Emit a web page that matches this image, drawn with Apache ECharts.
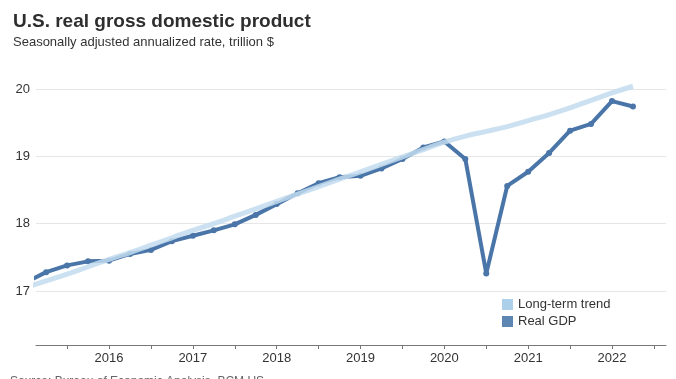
<!DOCTYPE html>
<html>
<head>
<meta charset="utf-8">
<script src="https://cdn.jsdelivr.net/npm/echarts@6/dist/echarts.min.js"></script>
<style>
html,body{margin:0;padding:0;background:#fff;}
#chart{width:676px;height:379px;}
</style>
</head>
<body>
<div id="chart"></div>
<script>
// Quarter-end positions (fractional years)
var quarterTimes = [2015.0, 2015.25, 2015.5, 2015.75, 2016.0, 2016.25, 2016.5, 2016.75,
  2017.0, 2017.25, 2017.5, 2017.75, 2018.0, 2018.25, 2018.5, 2018.75,
  2019.0, 2019.25, 2019.5, 2019.75, 2020.0, 2020.25, 2020.5, 2020.75,
  2021.0, 2021.25, 2021.5, 2021.75, 2022.0, 2022.25];
// Real GDP, trillion $
var realGDP = [17.12, 17.28, 17.38, 17.44, 17.45, 17.55, 17.61, 17.74,
  17.82, 17.90, 17.99, 18.13, 18.29, 18.45, 18.60, 18.69,
  18.71, 18.82, 18.96, 19.13, 19.22, 18.96, 17.26, 18.56,
  18.77, 19.05, 19.38, 19.48, 19.82, 19.74];
// Long-term trend, trillion $
var longTermTrend = [17.05, 17.15, 17.25, 17.36, 17.47, 17.57, 17.68, 17.79,
  17.90, 18.00, 18.11, 18.22, 18.33, 18.44, 18.55, 18.66,
  18.77, 18.88, 18.99, 19.10, 19.21, 19.30, 19.37, 19.44,
  19.53, 19.62, 19.72, 19.83, 19.94, 20.04];
var xTickLabels = [2016, 2017, 2018, 2019, 2020, 2021, 2022];
var xTickMarks = [2015.5, 2016, 2016.5, 2017, 2017.5, 2018, 2018.5, 2019, 2019.5, 2020, 2020.5, 2021, 2021.5, 2022, 2022.5];
var yTickLabels = [17, 18, 19, 20];

function pairs(xs, ys) { return xs.map(function (x, i) { return [x, ys[i]]; }); }

var chart = echarts.init(document.getElementById('chart'), null, {renderer: 'canvas'});
var FONT = '"Liberation Sans", Arial, sans-serif';
chart.setOption({
  animation: false,
  textStyle: {fontFamily: FONT},
  grid: {left: 36, right: 10, top: 62, bottom: 34, containLabel: false},
  graphic: [
    {type: 'text', left: 13, top: 12, style: {text: 'U.S. real gross domestic product', font: 'bold 19px ' + FONT, fill: '#2e2e2e'}},
    {type: 'text', left: 13, top: 36, style: {text: 'Seasonally adjusted annualized rate, trillion $', font: '13px ' + FONT, fill: '#333'}},
    {type: 'text', x: 10, y: 388, style: {text: 'Source: Bureau of Economic Analysis, BCM US', font: '12px ' + FONT, fill: '#666', verticalAlign: 'bottom'}}
  ],
  legend: {
    orient: 'vertical', left: 497, top: 293, itemWidth: 11, itemHeight: 11, itemGap: 4,
    icon: 'rect', textStyle: {fontSize: 13, color: '#333', fontFamily: FONT},
    data: [
      {name: 'Long-term trend', itemStyle: {color: '#acd0ea'}},
      {name: 'Real GDP', itemStyle: {color: '#5e86b3'}}
    ]
  },
  xAxis: {
    type: 'value', min: 2015.129, max: 2022.644,
    axisLine: {lineStyle: {color: '#777', width: 1}},
    axisTick: {show: true, length: 4, customValues: xTickMarks, lineStyle: {color: '#777'}},
    axisLabel: {customValues: xTickLabels, color: '#333', fontSize: 13, margin: 7, formatter: function (v) { return String(v); }},
    splitLine: {show: false}
  },
  yAxis: {
    type: 'value', min: 16.198, max: 20.4,
    axisLine: {show: false},
    axisTick: {show: false, customValues: yTickLabels},
    axisLabel: {customValues: yTickLabels, color: '#333', fontSize: 13, margin: 6},
    splitLine: {show: true, lineStyle: {color: '#e6e6e6', width: 1}}
  },
  series: [
    {
      name: 'Real GDP', type: 'line', data: pairs(quarterTimes, realGDP),
      symbol: 'circle', symbolSize: 6, showSymbol: true,
      lineStyle: {color: '#4a75a8', width: 4}, itemStyle: {color: '#4a75a8'},
      z: 2, clip: true
    },
    {
      name: 'Long-term trend', type: 'line', data: pairs(quarterTimes, longTermTrend),
      symbol: 'none', smooth: true,
      lineStyle: {color: '#c2dcef', width: 5, opacity: 0.85}, itemStyle: {color: '#c2dcef'},
      z: 3, clip: true
    }
  ]
});
</script>
</body>
</html>
